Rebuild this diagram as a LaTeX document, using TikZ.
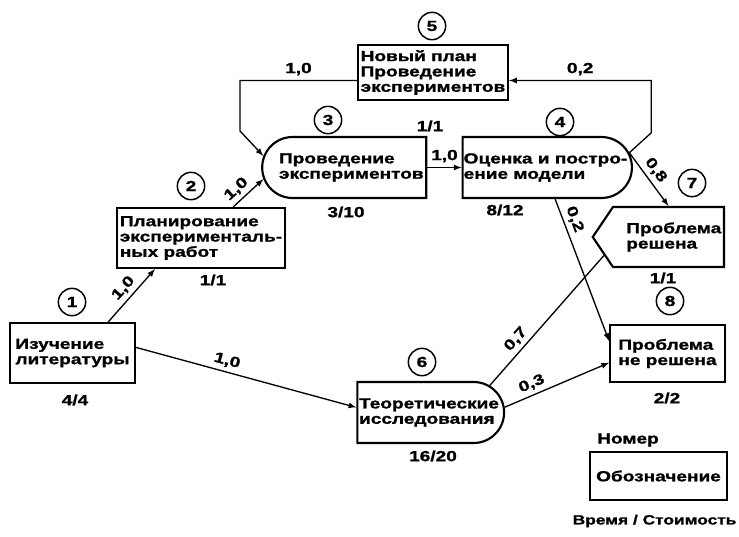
\documentclass[tikz,border=0pt]{standalone}
\usepackage{fontspec}
\newfontfamily\netfont[FakeStretch=1.3, BoldFeatures={FakeBold=1.2}]{Liberation Sans}
\usetikzlibrary{arrows, shapes.misc, shapes.symbols}

\begin{document}
\begin{tikzpicture}[x = 0.75pt, y = -0.75pt, >= latex,
    every node/.style = {font = \netfont\bfseries\fontsize{11}{11.5}\selectfont},
    task/.style = {draw, line width = 1.6pt, align = left, inner sep = 2pt},
    num/.style = {draw, circle, line width = 1.1pt, minimum size = 20.5pt, inner sep = 0pt},
    cost/.style = {inner sep = 1pt},
    prob/.style = {inner sep = 3pt, sloped, above}]
  \fill[white] (0,0) rectangle (739,536);
  \useasboundingbox (0,0) rectangle (739,536);

  % tasks
  \node[task, minimum width = 93.8pt, minimum height = 45pt] (lit) at (72.5,353) {Изучение\\литературы};
  \node[task, minimum width = 126pt, minimum height = 45pt] (plan) at (201,238) {Планирование\\эксперименталь-\\ных работ};
  \node[task, rounded rectangle, rounded rectangle right arc = none, minimum width = 114pt, minimum height = 45.75pt] (exp) at (346,167.5) {\hspace*{8pt}Проведение\\\hspace*{8pt}экспериментов};
  \node[task, rounded rectangle, rounded rectangle left arc = none, minimum width = 131pt, minimum height = 45.75pt] (model) at (545.5,167.5) {Оценка и постро-\\ение модели};
  \node[task, minimum width = 112.5pt, minimum height = 41.25pt] (newplan) at (433,72.5) {Новый план\\Проведение\\экспериментов};
  \node[task, rounded rectangle, rounded rectangle left arc = none, minimum width = 114pt, minimum height = 45.75pt] (theory) at (429,412.5) {Теоретические\\исследования};
  \node[task, signal, signal to = west, signal pointer angle = 112, minimum height = 45pt, anchor = east] (solved) at (725,237) {\hspace*{8pt}Проблема\\\hspace*{8pt}решена};
  \node[task, minimum width = 86pt, minimum height = 42.75pt] (unsolved) at (667.5,353.5) {Проблема\\не решена};

  % numbers
  \node[num] (c-lit) at (72,302) {1};
  \node[num] (c-plan) at (191,186) {2};
  \node[num] (c-exp) at (328,120) {3};
  \node[num] (c-model) at (560,122) {4};
  \node[num] (c-newplan) at (432,26) {5};
  \node[num] (c-theory) at (422,362) {6};
  \node[num] (c-solved) at (692,183) {7};
  \node[num] (c-unsolved) at (670,301) {8};

  % time / cost
  \node[cost] (t-lit) at (75,400) {4/4};
  \node[cost] (t-plan) at (213,280) {1/1};
  \node[cost] (t-exp) at (346,212) {3/10};
  \node[cost] (t-model) at (505,210) {8/12};
  \node[cost] (t-newplan) at (430,126) {1/1};
  \node[cost] (t-theory) at (433,456) {16/20};
  \node[cost] (t-solved) at (663,278) {1/1};
  \node[cost] (t-unsolved) at (667,398) {2/2};

  % legend
  \node[task, minimum width = 103pt, minimum height = 36pt] (legend) at (658.5,476) {Обозначение};
  \node[cost] (l-num) at (628,440) {Номер};
  \node[cost, anchor = east, font = \netfont\bfseries\fontsize{10}{10.5}\selectfont] (l-cost) at (738,521) {Время / Стоимость};

  \coordinate (bend) at (240,131);

  \path[->, line width = 1pt]
    (lit.41) edge node[prob, pos = .5] {1,0} (plan.214)
    (plan.44) edge node[prob, pos = .35] {1,0} (exp.188)
    (exp.east) edge node[above] {1,0} (model.west)
    (lit.5) edge node[prob, pos = .4] {1,0} (theory.176)
    (model.10) edge node[prob, pos = .45] {0,8} (solved.north)
    (model.-73) edge node[prob, pos = .17] {0,2} (unsolved.168)
    (theory.4) edge node[prob, pos = .3] {0,3} (unsolved.189);
  \path[line width = 1pt] (theory.24) edge node[prob, pos = .3] {0,7} (solved.196);
  \draw[->, line width = 1pt] (model.10) -- ++(22,-20) |- node[above, pos = .75] {0,2} (newplan.-6);
  \draw[->, line width = 1pt] (newplan.186) -| node[above, pos = .25] {1,0} (bend) -- (exp.172);
\end{tikzpicture}
\end{document}
